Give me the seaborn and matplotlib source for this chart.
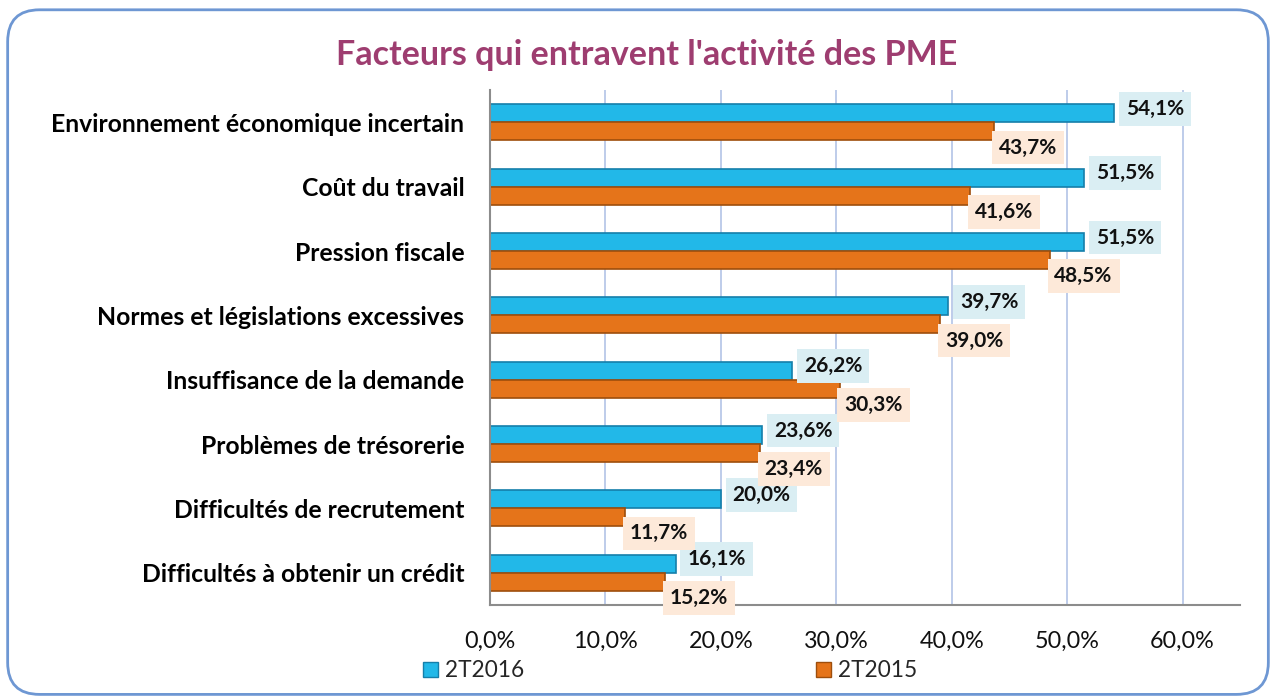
import matplotlib
matplotlib.use("Agg")
import matplotlib.pyplot as plt
from matplotlib.patches import FancyBboxPatch, Patch
from matplotlib.ticker import FuncFormatter
import pandas as pd
import seaborn as sns

categories = ["Environnement économique incertain", "Coût du travail", "Pression fiscale",
              "Normes et législations excessives", "Insuffisance de la demande",
              "Problèmes de trésorerie", "Difficultés de recrutement",
              "Difficultés à obtenir un crédit"]
series_names = ["2T2016", "2T2015"]
vals_2016 = [54.1, 51.5, 51.5, 39.7, 26.2, 23.6, 20.0, 16.1]
vals_2015 = [43.7, 41.6, 48.5, 39.0, 30.3, 23.4, 11.7, 15.2]

df = pd.DataFrame({
    "cat": categories * 2,
    "serie": [series_names[0]] * len(categories) + [series_names[1]] * len(categories),
    "val": vals_2016 + vals_2015,
})

sns.set_theme(style="white")
plt.rcParams["font.family"] = ["Lato", "DejaVu Sans"]

colors = {"2T2016": "#22B8E8", "2T2015": "#E5741A"}
edges = {"2T2016": "#157FAA", "2T2015": "#9E4E0C"}
label_bg = {"2T2016": "#DAEEF3", "2T2015": "#FDE9D9"}

fig = plt.figure(figsize=(12.76, 7), dpi=100)
ax = fig.add_axes([0.384, 0.136, 0.588, 0.735])

sns.barplot(data=df, y="cat", x="val", hue="serie", palette=colors, orient="h",
            width=0.56, ax=ax, legend=False, saturation=1)

for cont, name in zip(ax.containers, series_names):
    for bar in cont:
        bar.set_edgecolor(edges[name])
        bar.set_linewidth(1.2)
        v = bar.get_width()
        yc = bar.get_y() + bar.get_height() / 2
        if name == "2T2016":
            tx, ty = v + 1.0, yc - 0.07
        else:
            tx, ty = v + 0.4, yc + 0.25
        ax.text(tx, ty, f"{v:.1f}%".replace(".", ","), ha="left", va="center",
                fontsize=15, fontweight="bold", color="#111111",
                bbox=dict(boxstyle="square,pad=0.33", fc=label_bg[name], ec="none"))

ax.set_xlim(0, 65)
ax.set_xticks([0, 10, 20, 30, 40, 50, 60])
ax.xaxis.set_major_formatter(FuncFormatter(lambda x, p: f"{x:.1f}%".replace(".", ",")))
ax.grid(axis="x", color="#B3C4E6", linewidth=1.2)
ax.set_axisbelow(True)
ax.set_xlabel("")
ax.set_ylabel("")
ax.tick_params(axis="x", labelsize=16.8, pad=19, length=0, colors="#111111")
ax.tick_params(axis="y", labelsize=17.8, pad=18.5, length=0, colors="#000000")
for lab in ax.get_yticklabels():
    lab.set_fontweight("bold")
for s in ["top", "right"]:
    ax.spines[s].set_visible(False)
for s in ["left", "bottom"]:
    ax.spines[s].set_color("#8C8C8C")
    ax.spines[s].set_linewidth(1.5)

fig.text(0.507, 0.921, "Facteurs qui entravent l'activité des PME", ha="center", va="center",
         fontsize=24.5, fontweight="bold", color="#9E3D70")

handles = [Patch(facecolor=colors[n], edgecolor=edges[n], label=n) for n in series_names]
fig.legend(handles=handles, loc="center left", bbox_to_anchor=(0.3155, 0.042), ncol=2,
           frameon=False, fontsize=16.3, handlelength=0.66, handleheight=0.66,
           handletextpad=0.3, columnspacing=12.9)

frame = FancyBboxPatch((0.006, 0.008), 0.988, 0.978, boxstyle="round,pad=0,rounding_size=0.025",
                       transform=fig.transFigure, fill=False, ec="#6E97D3", lw=2,
                       mutation_aspect=1276 / 700)
fig.patches.append(frame)

fig.savefig("out.png", dpi=100)
